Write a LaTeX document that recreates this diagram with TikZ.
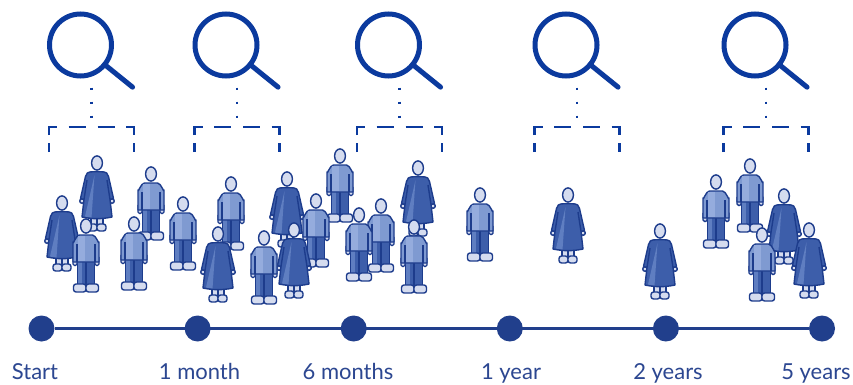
\documentclass[tikz,border=0pt]{standalone}
\usepackage{fontspec}
\setmainfont{Lato}
\usepackage{tikz}
\definecolor{lensblue}{HTML}{0B3A9E}
\definecolor{linenavy}{HTML}{213F8C}
\definecolor{labelnavy}{HTML}{2C4791}
\definecolor{figline}{HTML}{1D3C8C}
\definecolor{figskin}{HTML}{D5DCEF}
\definecolor{figshirt}{HTML}{7F9AD1}
\definecolor{figshirthl}{HTML}{95ACDD}
\definecolor{figdark}{HTML}{3D5EAA}
\definecolor{figdarkhl}{HTML}{5F7EC1}

\tikzset{
  figout/.style={draw=figline,line width=1.4pt,line join=round},
  % standing man, origin at the centre of the head
  man/.pic={
    \draw[figout,fill=figdark] (-8.5,33) rectangle (8.5,58.5);
    \fill[figdarkhl] (-7.8,36) rectangle (-4.3,57.8);
    \draw[figout] (0,36) -- (0,58.5);
    \draw[figout,fill=figskin,rounded corners=2.5pt] (-12.5,58) rectangle (0,66);
    \draw[figout,fill=figskin,rounded corners=2.5pt] (0,58) rectangle (12.5,66);
    \draw[figout,fill=figskin,rounded corners=1.5pt] (-13,30) rectangle (-9,39.5);
    \draw[figout,fill=figskin,rounded corners=1.5pt] (9,30) rectangle (13,39.5);
    \draw[figout,fill=figshirt] (-13,36) -- (-13,16) to[out=-90,in=180] (-6.5,9) -- (6.5,9) to[out=0,in=-90] (13,16) -- (13,36) -- cycle;
    \fill[figshirthl] (-8.2,10) rectangle (-1,35.3);
    \draw[figout] (-9,18) -- (-9,36) (9,18) -- (9,36);
    \draw[figout,fill=figskin] (0,0) ellipse [x radius=5.4,y radius=7.1];
  },
  % standing woman in a long robe, origin at the centre of the head
  woman/.pic={
    \draw[figout,fill=figskin] (-6,50) rectangle (0,62);
    \draw[figout,fill=figskin] (0,50) rectangle (6,62);
    \draw[figout,fill=figskin,rounded corners=2.5pt] (-9,61) rectangle (0,68);
    \draw[figout,fill=figskin,rounded corners=2.5pt] (0,61) rectangle (9,68);
    \draw[figout,fill=figskin] (-15,38) circle (2.3);
    \draw[figout,fill=figskin] (15,38) circle (2.3);
    \fill[figdark] (-4,8.7) .. controls (-9,8.7) and (-11.5,10.5) .. (-11.5,13.5) -- (-16.5,35.5) -- (-13,36.5) -- (-15,54) .. controls (-5,56.2) and (5,56.2) .. (15,54) -- (13,36.5) -- (16.5,35.5) -- (11.5,13.5) .. controls (11.5,10.5) and (9,8.7) .. (4,8.7) -- cycle;
    \fill[figdarkhl] (-2.5,12) -- (-12,53.5) -- (-5.5,54.8) -- cycle;
    \draw[figout] (-4,8.7) .. controls (-9,8.7) and (-11.5,10.5) .. (-11.5,13.5) -- (-16.5,35.5) -- (-13,36.5) -- (-15,54) .. controls (-5,56.2) and (5,56.2) .. (15,54) -- (13,36.5) -- (16.5,35.5) -- (11.5,13.5) .. controls (11.5,10.5) and (9,8.7) .. (4,8.7) -- cycle;
    \draw[figout] (-10,17) -- (-13,36.5) (10,17) -- (13,36.5);
    \draw[figout,fill=figskin] (0,0) ellipse [x radius=5.4,y radius=7.1];
  }
}

\begin{document}
\begin{tikzpicture}[
  x=1pt,y=-1pt,
  lens/.style={draw=lensblue,line width=5pt},
  dots/.style={draw=lensblue,line width=2.6pt,dash pattern=on 2.5pt off 11.5pt},
  bracket/.style={draw=lensblue,line width=2.6pt,
    dash pattern=on 9pt off 8pt on 16pt off 11.5pt on 17pt off 12pt on 17pt off 11.5pt on 16pt off 8pt on 9pt off 10pt},
  tdot/.style={circle,fill=linenavy,inner sep=0pt,minimum size=26pt},
  tline/.style={draw=linenavy,line width=3pt},
  tlabel/.style={anchor=base,text=labelnavy,font=\fontsize{22}{26}\selectfont}
]
\useasboundingbox[fill=white] (0,0) rectangle (853,385);

% magnifying glasses over the sampled groups
\foreach \n/\bx in {1/91.5,2/237,3/399.5,4/577,5/766}{
  \coordinate (lens\n) at (\bx-11,45);
  \coordinate (stem\n) at (\bx,87.75);
  \coordinate (brk\n) at (\bx,127);
  \draw[lens] (lens\n) circle (31);
  \draw[lens,line cap=round] ([shift={(39:31)}]lens\n) -- ([shift={(39:67)}]lens\n);
  \draw[dots] (stem\n) -- (brk\n);
  \draw[bracket] ([shift={(-42.5,25)}]brk\n) -- ++(0,-25) -- ++(85,0) -- ++(0,25);
}

% people, back row first
\pic at (340,156) {man};
\pic at (97,163) {woman};
\pic at (750,166) {man};
\pic at (418,168) {woman};
\pic at (151,174) {man};
\pic at (287,179) {woman};
\pic at (716,182) {man};
\pic at (231,184) {man};
\pic at (480,195) {man};
\pic at (568,195) {woman};
\pic at (784,196) {woman};
\pic at (316,201) {man};
\pic at (62,203) {woman};
\pic at (183,204) {man};
\pic at (381,206) {man};
\pic at (359,215) {man};
\pic at (134,224) {man};
\pic at (86,226) {man};
\pic at (414,227) {man};
\pic at (294,230) {woman};
\pic at (809,230) {woman};
\pic at (660,231) {woman};
\pic at (218,234) {woman};
\pic at (762,235) {man};
\pic at (264,238) {man};

% timeline
\node[tdot] (t0) at (41.5,328.5) {};
\node[tdot] (t1) at (197.6,328.5) {};
\node[tdot] (t2) at (353.7,328.5) {};
\node[tdot] (t3) at (509.8,328.5) {};
\node[tdot] (t4) at (665.9,328.5) {};
\node[tdot] (t5) at (822,328.5) {};
\draw[tline] (t0) -- (t5);

\node[tlabel] (l0) at (35,379) {Start};
\node[tlabel] (l1) at (199.5,379) {1 month};
\node[tlabel] (l2) at (348,379) {6 months};
\node[tlabel] (l3) at (511,379) {1 year};
\node[tlabel] (l4) at (668,379) {2 years};
\node[tlabel] (l5) at (816,379) {5 years};
\end{tikzpicture}
\end{document}
